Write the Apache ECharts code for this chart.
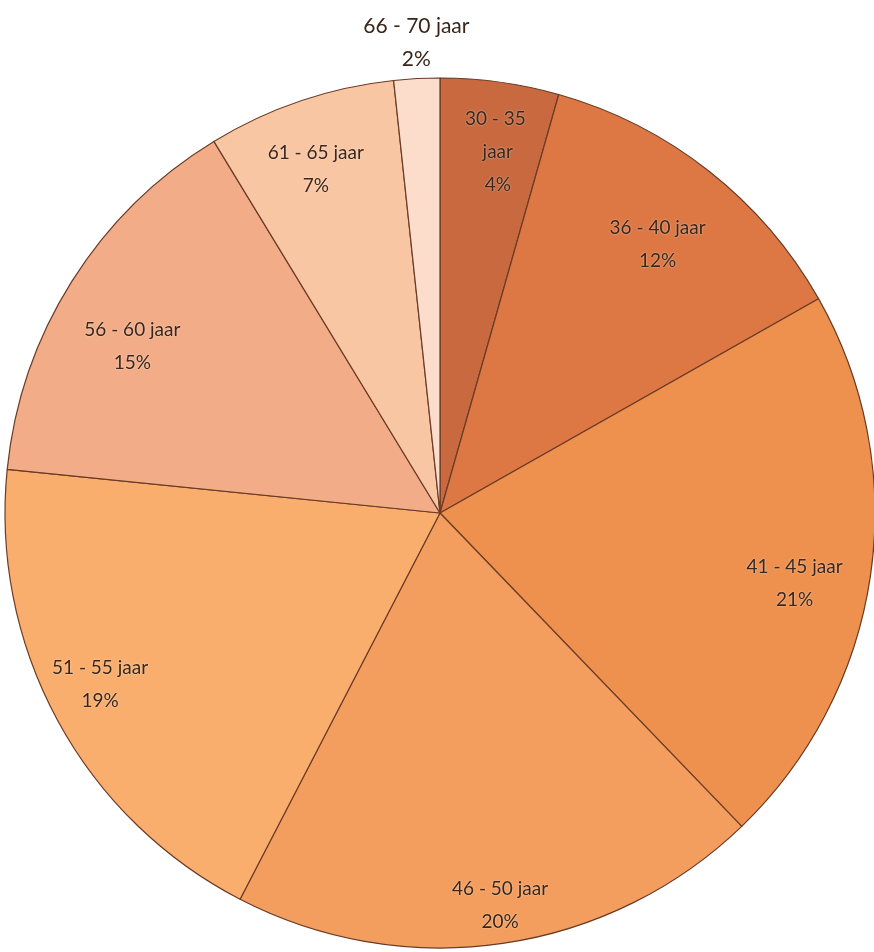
<!DOCTYPE html>
<html>
<head>
<meta charset="utf-8">
<script src="https://cdn.jsdelivr.net/npm/echarts@6/dist/echarts.min.js"></script>
<style>html,body{margin:0;padding:0;background:#fff;}#c{width:874px;height:952px;}</style>
</head>
<body>
<div id="c"></div>
<script>
var categories = ['30 - 35 jaar','36 - 40 jaar','41 - 45 jaar','46 - 50 jaar','51 - 55 jaar','56 - 60 jaar','61 - 65 jaar','66 - 70 jaar'];
var values = [4.4, 12.4, 21.0, 19.8, 19.0, 14.7, 7.0, 1.7];
var colors = ['#c8693f','#dd7845','#ee914f','#f39e5e','#f9ae6e','#f2ad88','#f9c6a3','#fcdccb'];

var R = 435;
var labelFont = { fontFamily: 'Lato, "Open Sans", sans-serif', fontSize: 19, color: '#3a261a', lineHeight: 33,
  textShadowColor: 'rgba(255,255,255,0.6)', textShadowBlur: 2 };
// fine label nudges (styling only)
var labelShift = [[7,4],[-10,21],[-10,17],[7,28],[-16,-4],[4,30],[-6,5],[-4,-102]];

var pieData = categories.map(function(c, i){
  return { name: c, value: values[i], itemStyle: { color: colors[i] } };
});

var labelData = categories.map(function(c, i){
  var d = { name: c, value: values[i] };
  if (i === 0) d.label = { width: 80, overflow: 'break' };
  if (i === categories.length - 1) d.label = { fontSize: 21 };
  return d;
});

var chart = echarts.init(document.getElementById('c'));
chart.setOption({
  animation: false,
  series: [
    {
      type: 'pie',
      center: [440, 513],
      radius: [0, R],
      startAngle: 90,
      clockwise: true,
      label: { show: false },
      labelLine: { show: false },
      silent: true,
      itemStyle: { borderColor: '#6b3b26', borderWidth: 1.2 },
      data: pieData
    },
    {
      type: 'pie',
      center: [440, 513],
      radius: [R * 0.68, R],
      startAngle: 90,
      clockwise: true,
      silent: true,
      itemStyle: { color: 'rgba(0,0,0,0)' },
      labelLine: { show: false },
      label: Object.assign({
        show: true,
        position: 'inside',
        align: 'center',
        formatter: function(p){ return p.name + '\n' + Math.round(p.percent) + '%'; }
      }, labelFont),
      labelLayout: function(p){
        var s = labelShift[p.dataIndex];
        return { dx: s[0], dy: s[1] };
      },
      data: labelData
    }
  ]
});
</script>
</body>
</html>
